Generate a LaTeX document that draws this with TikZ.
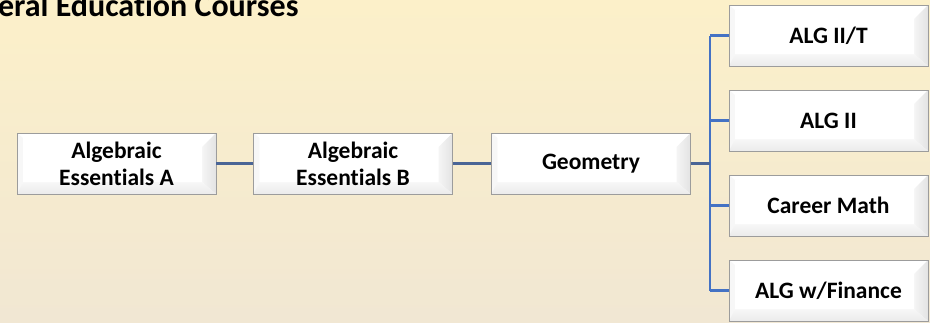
\documentclass[tikz,border=0pt]{standalone}
\usepackage{fontspec}
\setmainfont[Ligatures=NoCommon]{Carlito}
\usetikzlibrary{calc}
\definecolor{bgtop}{HTML}{FCF0C9}
\definecolor{bgbot}{HTML}{F1E7D3}
\definecolor{chainblue}{HTML}{4A6596}
\definecolor{trunkblue}{HTML}{4472C4}
\definecolor{rimgray}{HTML}{9C9C9C}

\tikzset{
  bevelbox/.style={
    rectangle, minimum width=199pt, minimum height=61pt, inner sep=0pt,
    align=center, font=\bfseries\fontsize{23.5}{27}\selectfont,
    fill=white,
    path picture={
      \coordinate (ow) at (path picture bounding box.north west);
      \coordinate (oe) at (path picture bounding box.north east);
      \coordinate (se) at (path picture bounding box.south east);
      \coordinate (sw) at (path picture bounding box.south west);
      \coordinate (iw) at ($(ow)+(6pt,-5pt)$);
      \coordinate (ie) at ($(oe)+(-14pt,-14pt)$);
      \coordinate (ise) at ($(se)+(-14pt,12pt)$);
      \coordinate (isw) at ($(sw)+(6pt,12pt)$);
      % lit top and left faces
      \fill[white] (ow) -- (oe) -- (ie) -- (iw) -- cycle;
      \fill[gray!6] (ow) -- (iw) -- (isw) -- (sw) -- cycle;
      % shaded right and bottom faces
      \shade[left color=gray!8, right color=gray!22] (oe) -- (se) -- (ise) -- (ie) -- cycle;
      \shade[top color=gray!6, bottom color=gray!16] (sw) -- (isw) -- (ise) -- (se) -- cycle;
      \fill[white] (iw) -- (ie |- iw) -- (ie) -- (ise) -- (isw) -- cycle;
    },
    draw=rimgray, line width=0.9pt
  },
  chain/.style={draw=chainblue, line width=2.6pt},
  branch/.style={draw=trunkblue, line width=2.2pt}
}

\begin{document}
\begin{tikzpicture}[x=1pt,y=-1pt]
  \useasboundingbox (0,0) rectangle (930,322);
  \clip (0,0) rectangle (930,322);
  \shade[top color=bgtop, bottom color=bgbot] (0,0) rectangle (930,322);

  % heading runs off the left and top edges of the canvas
  \node[anchor=base east, font=\bfseries\fontsize{32}{35}\selectfont] (title) at (302,16.5) {General Education Courses};

  \node[bevelbox] (algA) at (116.5,163.5) {Algebraic\\Essentials A};
  \node[bevelbox] (algB) at (353,163.5) {Algebraic\\Essentials B};
  \node[bevelbox] (geo) at (591,163.5) {Geometry};

  \node[bevelbox] (alg2t) at (828.5,35.5) {ALG II/T};
  \node[bevelbox] (alg2) at (828.5,120.5) {ALG II};
  \node[bevelbox] (career) at (828.5,205.5) {Career Math};
  \node[bevelbox] (finance) at (828.5,290.5) {ALG w/Finance};

  \coordinate (hub) at (710,163.5);

  \draw[chain] (algA) -- (algB);
  \draw[chain] (algB) -- (geo);
  \draw[branch] (hub |- alg2t) -- (hub |- finance);
  \draw[chain] (geo) -- (hub);
  \draw[branch] (hub |- alg2t) -- (alg2t);
  \draw[branch] (hub |- alg2) -- (alg2);
  \draw[branch] (hub |- career) -- (career);
  \draw[branch] (hub |- finance) -- (finance);
\end{tikzpicture}
\end{document}
